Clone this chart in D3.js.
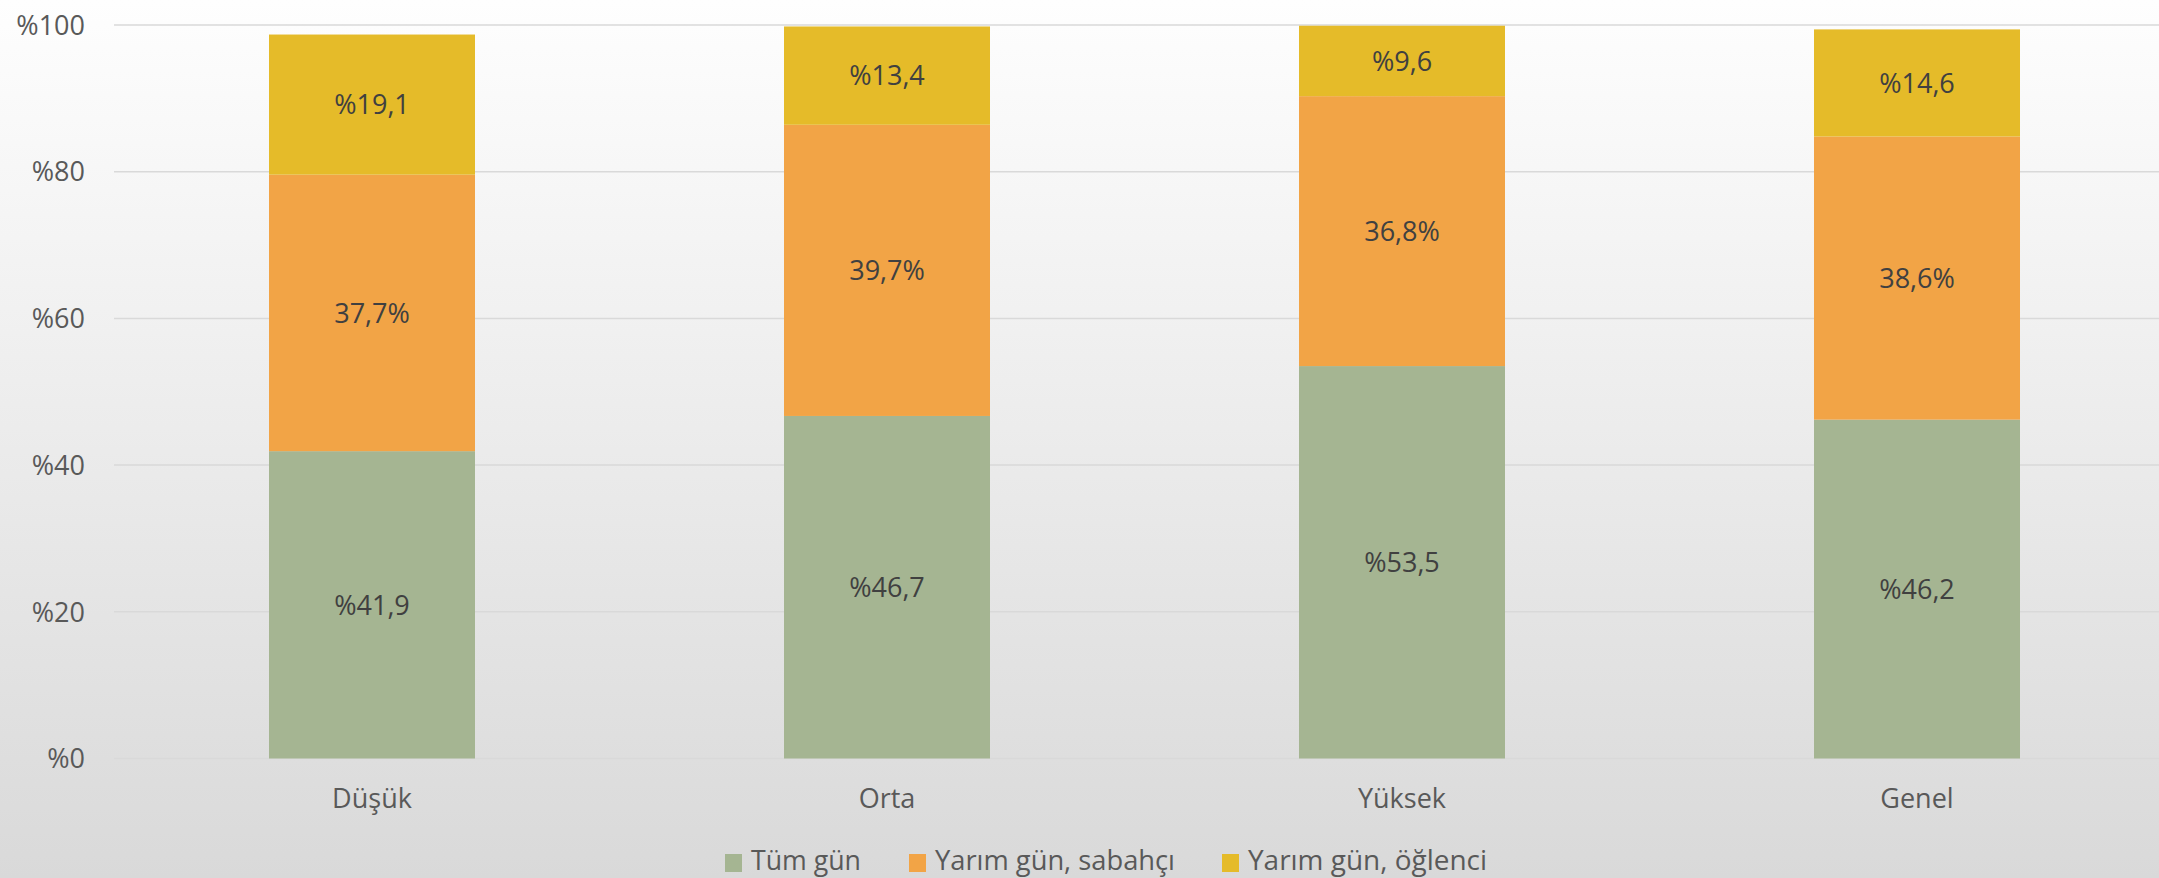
<!DOCTYPE html>
<html><head><meta charset="utf-8">
<script src="https://cdn.jsdelivr.net/npm/d3@7"></script>
<style>html,body{margin:0;padding:0;overflow:hidden;}</style>
</head><body>
<script>
const categories = ["Düşük", "Orta", "Yüksek", "Genel"];
const seriesNames = ["Tüm gün", "Yarım gün, sabahçı", "Yarım gün, öğlenci"];
const tumGun = [41.9, 46.7, 53.5, 46.2];
const sabahci = [37.7, 39.7, 36.8, 38.6];
const oglenci = [19.1, 13.4, 9.6, 14.6];
const yTicks = [0, 20, 40, 60, 80, 100];
const colors = ["#a5b592", "#f2a446", "#e5bb29"];

const W = 2159, H = 878;
const svg = d3.select("body").append("svg").attr("width", W).attr("height", H);
const defs = svg.append("defs");
const grad = defs.append("linearGradient").attr("id","bg").attr("x1",0).attr("y1",0).attr("x2",0).attr("y2",1);
grad.append("stop").attr("offset","0%").attr("stop-color","#fefefe");
grad.append("stop").attr("offset","100%").attr("stop-color","#d9d9d9");
svg.append("rect").attr("width",W).attr("height",H).attr("fill","url(#bg)");

const x = d3.scaleBand().domain(categories).range([114.5, 2174.5]).paddingInner(0.6).paddingOuter(0.3);
const y = d3.scaleLinear().domain([0, 100]).range([758.5, 25]);

const FONT = "'Open Sans', sans-serif";

// gridlines
svg.append("g").selectAll("line").data(yTicks).join("line")
  .attr("x1", 114).attr("x2", W).attr("y1", d => y(d)).attr("y2", d => y(d))
  .attr("stroke", "#d9d9d9").attr("stroke-width", 1.5);

// y tick labels
svg.append("g").selectAll("text").data(yTicks).join("text")
  .attr("x", 85).attr("y", d => y(d)).attr("dy", "0.36em")
  .attr("text-anchor", "end").attr("fill", "#595959")
  .style("font-family", FONT).style("font-size", "27px")
  .text(d => "%" + d);

const data = categories.map((c, i) => ({cat: c, v: [tumGun[i], sabahci[i], oglenci[i]]}));
const stack = d3.stack().keys([0,1,2]).value((d, k) => d.v[k]);
const stacked = stack(data);

const fmt = v => String(v.toFixed(1)).replace(".", ",");
const labelText = (k, v) => k === 1 ? fmt(v) + "%" : "%" + fmt(v);

stacked.forEach((layer, k) => {
  const g = svg.append("g");
  g.selectAll("rect").data(layer).join("rect")
    .attr("x", d => x(d.data.cat)).attr("width", x.bandwidth())
    .attr("y", d => y(d[1])).attr("height", d => y(d[0]) - y(d[1]))
    .attr("fill", colors[k]);
  g.selectAll("text").data(layer).join("text")
    .attr("x", d => x(d.data.cat) + x.bandwidth()/2)
    .attr("y", d => (y(d[0]) + y(d[1]))/2).attr("dy", "0.36em")
    .attr("text-anchor", "middle").attr("fill", "#404040")
    .style("font-family", FONT).style("font-size", "27px")
    .text(d => labelText(k, d[1] - d[0]));
});

// category labels
svg.append("g").selectAll("text").data(categories).join("text")
  .attr("x", d => x(d) + x.bandwidth()/2).attr("y", 808)
  .attr("text-anchor", "middle").attr("fill", "#595959")
  .style("font-family", FONT).style("font-size", "27px")
  .text(d => d);

// legend
const legX = [725, 909, 1222];
const legW = [110, 240, 239];
const leg = svg.append("g");
seriesNames.forEach((n, i) => {
  leg.append("rect").attr("x", legX[i]).attr("y", 854).attr("width", 17).attr("height", 18).attr("fill", colors[i]);
  leg.append("text").attr("x", legX[i] + 26).attr("y", 870)
    .attr("fill", "#595959")
    .attr("textLength", legW[i]).attr("lengthAdjust", "spacingAndGlyphs")
    .style("font-family", FONT).style("font-size", "27px")
    .text(n);
});
</script>
</body></html>
